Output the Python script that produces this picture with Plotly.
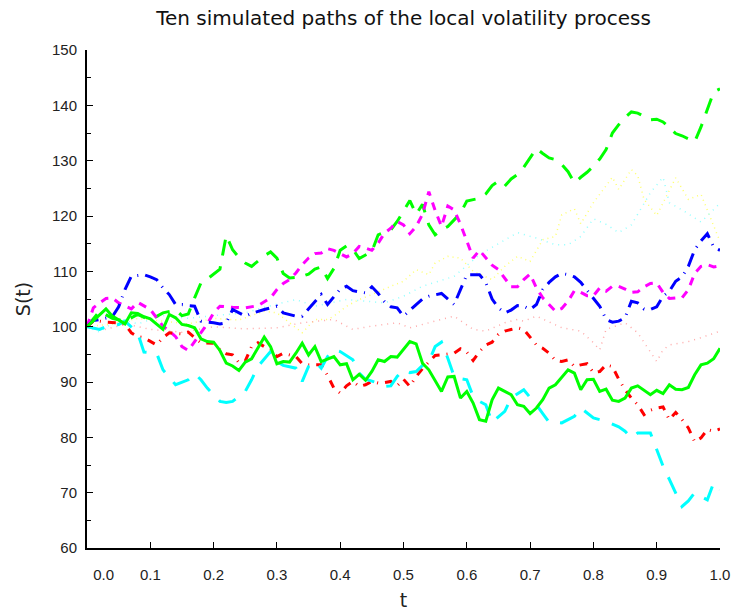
import plotly.graph_objects as go

# ---------------- data ----------------
t_green_solid = [0, 0.03, 0.04, 0.06, 0.07, 0.08, 0.09, 0.10,
                 0.12, 0.13, 0.14, 0.15, 0.16, 0.17, 0.18, 0.19, 0.20,
                 0.21, 0.22, 0.23, 0.24, 0.25, 0.26, 0.28, 0.29, 0.30,
                 0.31, 0.32, 0.33, 0.34, 0.35, 0.36, 0.37, 0.39, 0.40,
                 0.41, 0.42, 0.43, 0.44, 0.45, 0.46, 0.47, 0.48, 0.49,
                 0.51, 0.52, 0.53, 0.54, 0.56, 0.57, 0.58, 0.59, 0.60,
                 0.61, 0.62, 0.63, 0.64, 0.65, 0.66, 0.67, 0.68, 0.69, 0.70,
                 0.71, 0.72, 0.73, 0.74, 0.75, 0.76, 0.77, 0.78, 0.79, 0.80,
                 0.81, 0.82, 0.83, 0.84, 0.85, 0.86, 0.87,
                 0.89, 0.90, 0.91, 0.92, 0.93, 0.94, 0.95, 0.96, 0.97, 0.98, 0.99, 1.00]
s_green_solid = [100, 103.2, 101.9, 100.5, 102.5, 102.4, 101.8, 101.4,
                 99.5, 102.2, 101.6, 100.4, 100.2, 99.8, 97.8, 97.3, 97.2,
                 95.7, 93.4, 92.9, 92.1, 93.6, 94.2, 98.1, 96.4, 93.3,
                 93.7, 93.6, 95.2, 97.0, 94.9, 96.4, 93.7, 94.6, 93.1,
                 93.3, 90.4, 91.4, 90.3, 91.9, 94.0, 93.7, 94.6, 94.5,
                 97.3, 96.9, 93.4, 92.2, 88.3, 90.9, 91.0, 87.1, 88.3,
                 86.2, 83.2, 82.9, 86.8, 88.9, 88.3, 87.7, 85.9, 85.6, 84.3,
                 85.3, 86.8, 88.9, 89.5, 90.9, 92.2, 91.6, 88.6, 90.4, 90.5,
                 88.3, 88.7, 86.7, 86.5, 87.1, 88.9, 89.3,
                 87.7, 88.5, 87.9, 89.5, 88.7, 88.6, 89.0, 91.3, 93.1, 93.4, 94.2, 96.1]

t_green_dash = [0, 0.02, 0.04, 0.06, 0.08, 0.10, 0.12, 0.14, 0.15, 0.16,
                0.17, 0.18, 0.19, 0.20, 0.21, 0.22, 0.23, 0.24, 0.25, 0.26,
                0.27, 0.28, 0.29, 0.30, 0.31, 0.32, 0.33, 0.34, 0.35, 0.36,
                0.37, 0.38, 0.39, 0.40, 0.41, 0.42, 0.43, 0.44, 0.45, 0.46,
                0.47, 0.48, 0.49, 0.50, 0.51, 0.52, 0.53, 0.54, 0.55, 0.56,
                0.57, 0.58, 0.59, 0.60, 0.61, 0.62, 0.63, 0.64, 0.65, 0.66,
                0.67, 0.68, 0.69, 0.70, 0.71, 0.72, 0.73, 0.74, 0.75, 0.76,
                0.77, 0.78, 0.79, 0.80, 0.81, 0.82, 0.83, 0.84, 0.85, 0.86,
                0.87, 0.88, 0.89, 0.90, 0.91, 0.92, 0.93, 0.94, 0.95, 0.96,
                0.97, 0.98, 0.99, 1.00]
s_green_dash = [100, 102.8, 101.5, 101.0, 102.2, 101.2, 102.5, 103.0, 102.0, 102.3,
                105.2, 107.9, 108.6, 109.5, 110.4, 116.5, 113.9, 112.5, 111.5, 110.9,
                111.8, 112.8, 113.5, 112.4, 109.6, 108.8, 108.9, 109.1, 109.5, 110.4,
                110.8, 108.7, 110.5, 113.8, 114.6, 114.0, 112.3, 112.9, 113.6, 116.6,
                117.0, 117.5, 119.0, 120.8, 122.8, 120.3, 122.1, 118.4, 116.6, 117.5,
                118.1, 119.3, 120.5, 122.7, 123.0, 123.2, 124.0, 125.5, 126.3, 125.4,
                126.7, 127.5, 128.8, 130.5, 132.2, 131.3, 130.5, 130.2, 129.3, 128.0,
                126.0, 127.0, 127.9, 129.0, 130.3, 132.0, 135.0, 136.5, 137.8, 138.8,
                138.6, 138.0, 137.4, 137.5, 137.0, 136.0, 134.9, 134.5, 134.0, 133.4,
                136.1, 139.4, 142.4, 143.0]

t_magenta = [0, 0.01, 0.02, 0.03, 0.04, 0.05, 0.07, 0.08, 0.10, 0.11,
             0.12, 0.13, 0.14, 0.15, 0.16, 0.17, 0.18, 0.19, 0.20, 0.21,
             0.23, 0.25, 0.27, 0.29, 0.30, 0.31, 0.32, 0.33, 0.34, 0.35,
             0.36, 0.37, 0.38, 0.39, 0.40, 0.41, 0.42, 0.43, 0.44, 0.45,
             0.46, 0.47, 0.48, 0.49, 0.50, 0.51, 0.52, 0.53, 0.54, 0.55,
             0.56, 0.57, 0.58, 0.59, 0.60, 0.61, 0.62, 0.63, 0.64, 0.65,
             0.66, 0.67, 0.68, 0.69, 0.70, 0.71, 0.72, 0.73, 0.74, 0.75,
             0.76, 0.77, 0.78, 0.79, 0.80, 0.81, 0.82, 0.83, 0.84, 0.85,
             0.86, 0.87, 0.88, 0.89, 0.90, 0.91, 0.92, 0.93, 0.94, 0.95,
             0.96, 0.97, 0.98, 0.99, 1.00]
s_magenta = [100, 103.4, 104.3, 105.1, 105.2, 104.3, 103.2, 104.4, 103.1, 101.6,
             100.1, 99.2, 98.2, 96.4, 95.7, 97.3, 98.9, 100.5, 102.5, 103.7,
             103.5, 103.4, 103.8, 105.2, 106.7, 107.8, 108.5, 109.7, 111.2, 112.4,
             113.2, 113.3, 114.1, 113.8, 113.2, 112.6, 113.2, 114.5, 114.2, 113.8,
             115.1, 116.9, 117.8, 119.0, 118.4, 116.8, 118.1, 120.3, 124.4, 121.0,
             118.1, 121.8, 121.1, 118.5, 115.5, 112.4, 113.8, 112.4, 111.1, 110.3,
             108.8, 107.2, 107.2, 108.5, 109.5, 107.0, 105.2, 104.0, 102.8, 103.3,
             104.6, 106.5, 106.2, 105.6, 105.6, 107.0, 106.4, 107.3, 107.3, 106.8,
             106.2, 106.3, 107.2, 107.8, 107.9, 106.2, 105.1, 105.2, 105.2, 106.7,
             109.6, 110.9, 111.2, 110.8, 111.0]

t_blue = [0, 0.01, 0.02, 0.03, 0.04, 0.05, 0.06, 0.07, 0.08, 0.09,
          0.10, 0.11, 0.12, 0.13, 0.14, 0.15, 0.16, 0.17, 0.18, 0.19,
          0.20, 0.21, 0.22, 0.23, 0.24, 0.25, 0.26, 0.27, 0.28, 0.29,
          0.30, 0.31, 0.33, 0.34, 0.35, 0.37, 0.38, 0.39, 0.40, 0.41,
          0.42, 0.44, 0.45, 0.46, 0.47, 0.48, 0.49, 0.50, 0.51, 0.52,
          0.53, 0.54, 0.56, 0.57, 0.58, 0.59, 0.60, 0.62, 0.63, 0.64,
          0.65, 0.66, 0.67, 0.68, 0.69, 0.70, 0.71, 0.72, 0.73, 0.74,
          0.75, 0.76, 0.77, 0.78, 0.79, 0.80, 0.81, 0.82, 0.83, 0.84,
          0.85, 0.86, 0.87, 0.88, 0.89, 0.90, 0.91, 0.92, 0.93, 0.94,
          0.95, 0.96, 0.97, 0.98, 0.99, 1.00]
s_blue = [100, 101.1, 101.3, 101.5, 101.8, 103.6, 106.7, 109.1, 109.2, 109.4,
          109.0, 108.5, 107.0, 105.8, 104.0, 104.0, 103.8, 103.7, 101.0, 100.9,
          100.7, 100.5, 100.7, 103.1, 102.5, 101.9, 102.4, 102.8, 103.1, 103.4,
          103.7, 102.5, 101.9, 101.9, 103.2, 105.8, 104.0, 105.5, 106.8, 107.3,
          106.5, 106.1, 107.2, 106.0, 104.5, 103.6, 103.4, 101.9, 103.0, 104.0,
          105.0, 105.5, 106.0, 105.0, 104.0, 106.7, 109.4, 109.4, 108.0, 105.0,
          103.4, 102.5, 103.0, 103.8, 103.7, 103.1, 104.0, 106.7, 108.0, 109.0,
          109.6, 109.4, 109.0, 108.0, 106.5, 105.2, 103.7, 101.3, 100.8, 101.0,
          101.6, 104.6, 104.3, 103.2, 103.1, 103.6, 105.5, 106.4, 108.2, 109.0,
          110.9, 113.9, 115.5, 116.8, 114.4, 113.8]

t_red = [0, 0.01, 0.02, 0.03, 0.05, 0.06, 0.07, 0.08, 0.09, 0.10,
         0.11, 0.12, 0.13, 0.15, 0.16, 0.17, 0.18, 0.20, 0.21, 0.22,
         0.23, 0.24, 0.25, 0.26, 0.27, 0.28, 0.29, 0.30, 0.31, 0.32,
         0.33, 0.34, 0.35, 0.37, 0.38, 0.39, 0.40, 0.41, 0.42, 0.43,
         0.44, 0.45, 0.46, 0.47, 0.48, 0.49, 0.50, 0.51, 0.52, 0.53,
         0.54, 0.55, 0.56, 0.57, 0.58, 0.59, 0.60, 0.61, 0.62, 0.63,
         0.64, 0.65, 0.66, 0.67, 0.68, 0.69, 0.70, 0.71, 0.72, 0.73,
         0.74, 0.75, 0.76, 0.77, 0.78, 0.79, 0.80, 0.81, 0.82, 0.83,
         0.84, 0.85, 0.86, 0.87, 0.88, 0.89, 0.90, 0.91, 0.92, 0.93,
         0.94, 0.95, 0.96, 0.97, 0.98, 0.99, 1.00]
s_red = [100, 101.0, 101.0, 100.8, 100.7, 100.4, 98.9, 98.2, 98.0, 97.3,
         96.7, 98.0, 98.9, 98.7, 99.0, 98.0, 97.1, 97.0, 95.8, 95.1,
         94.9, 93.5, 93.8, 96.4, 97.1, 96.4, 96.0, 94.6, 95.2, 94.9,
         94.6, 93.3, 93.1, 93.1, 91.2, 88.9, 88.0, 89.3, 90.1, 89.2,
         89.5, 90.1, 89.8, 89.9, 90.1, 89.3, 90.5, 89.2, 91.0, 92.4,
         93.7, 94.8, 94.9, 95.1, 95.2, 96.0, 95.4, 93.9, 95.5, 96.7,
         97.2, 98.6, 99.2, 99.5, 99.8, 99.5, 98.0, 96.7, 96.1, 95.2,
         93.9, 93.7, 94.0, 92.8, 93.1, 93.3, 91.7, 91.9, 93.1, 92.8,
         90.5, 88.6, 87.1, 85.9, 84.1, 84.9, 85.3, 85.5, 83.2, 84.5,
         83.2, 81.7, 79.2, 79.9, 81.4, 81.1, 81.5]

t_cyan = [0, 0.02, 0.03, 0.05, 0.06, 0.07, 0.08, 0.09, 0.11, 0.12,
          0.14, 0.16, 0.17, 0.18, 0.19, 0.20, 0.21, 0.22, 0.23, 0.24,
          0.25, 0.26, 0.27, 0.29, 0.30, 0.31, 0.33, 0.34, 0.35, 0.36,
          0.37, 0.38, 0.39, 0.40, 0.42, 0.43, 0.44, 0.46, 0.47, 0.48,
          0.49, 0.50, 0.51, 0.52, 0.53, 0.54, 0.55, 0.56, 0.57, 0.58,
          0.59, 0.60, 0.61, 0.62, 0.63, 0.64, 0.65, 0.66, 0.67, 0.68,
          0.69, 0.70, 0.71, 0.72, 0.73, 0.74, 0.75, 0.76, 0.77, 0.78,
          0.79, 0.80, 0.82, 0.83, 0.84, 0.85, 0.86, 0.87, 0.88, 0.89,
          0.90, 0.91, 0.92, 0.93, 0.94, 0.95, 0.96, 0.97, 0.98, 0.99, 1.00]
s_cyan = [100, 99.5, 100.0, 100.4, 101.0, 100.0, 98.9, 95.4, 95.2, 92.2,
          89.5, 90.4, 91.5, 90.4, 88.9, 87.7, 86.5, 86.3, 86.5, 87.4,
          88.3, 90.4, 92.8, 95.5, 93.7, 93.0, 92.5, 90.1, 92.8, 93.7,
          92.5, 94.6, 95.8, 95.5, 94.0, 91.6, 90.5, 89.8, 89.2, 89.3,
          91.0, 92.2, 91.7, 91.9, 93.0, 93.7, 96.4, 97.2, 94.3, 91.0,
          90.6, 90.4, 87.4, 86.5, 85.9, 82.7, 83.7, 84.7, 87.1, 87.8,
          88.6, 87.2, 85.9, 84.3, 82.7, 82.7, 82.6, 83.2, 83.8, 85.3,
          84.4, 83.5, 82.9, 82.4, 81.9, 81.1, 79.9, 80.8, 80.8, 80.8,
          77.8, 74.8, 72.4, 69.8, 67.5, 68.5, 70.0, 69.3, 68.7, 71.8, 70.6]

t_yellow = [0, 0.04, 0.08, 0.12, 0.16, 0.20, 0.24, 0.25, 0.28, 0.30,
            0.32, 0.34, 0.36, 0.38, 0.39, 0.41, 0.43, 0.45, 0.48, 0.50,
            0.52, 0.54, 0.55, 0.57, 0.59, 0.61, 0.64, 0.66, 0.68, 0.70,
            0.72, 0.74, 0.75, 0.77, 0.78, 0.80, 0.83, 0.84, 0.86, 0.87,
            0.88, 0.90, 0.93, 0.95, 0.97, 0.98, 1.00]
s_yellow = [100, 100.5, 101.5, 101.0, 100.5, 101.5, 101.2, 101.6, 102.8, 102.5,
            100.7, 98.9, 101.3, 101.3, 101.9, 103.7, 104.9, 105.8, 107.3, 108.2,
            110.3, 109.4, 111.5, 112.7, 112.4, 110.0, 108.5, 110.9, 112.7, 111.8,
            115.7, 116.3, 120.2, 121.3, 118.6, 122.4, 127.0, 124.8, 128.4, 127.3,
            123.0, 120.1, 126.9, 123.0, 123.9, 121.0, 115.4]

t_light_cyan = [0, 0.02, 0.05, 0.08, 0.12, 0.16, 0.20, 0.25, 0.28, 0.33,
                0.36, 0.41, 0.47, 0.50, 0.53, 0.58, 0.62, 0.65, 0.68, 0.71,
                0.74, 0.76, 0.78, 0.80, 0.82, 0.84, 0.86, 0.89, 0.91, 0.92,
                0.94, 0.97, 1.00]
s_light_cyan = [100, 99.0, 101.5, 100.5, 102.0, 101.5, 102.0, 102.5, 103.5, 104.9,
                103.7, 104.9, 104.3, 105.5, 107.3, 109.1, 113.0, 115.0, 117.0, 116.0,
                114.8, 114.8, 116.3, 119.5, 118.5, 117.0, 118.4, 124.2, 127.0, 122.4,
                121.1, 118.9, 122.3]

t_pink = [0, 0.03, 0.06, 0.10, 0.15, 0.20, 0.25, 0.30, 0.34, 0.39,
          0.42, 0.45, 0.49, 0.51, 0.53, 0.56, 0.58, 0.61, 0.63, 0.66,
          0.68, 0.69, 0.71, 0.75, 0.78, 0.80, 0.81, 0.82, 0.85, 0.87,
          0.90, 0.91, 0.92, 0.95, 0.97, 1.00]
s_pink = [100, 99.5, 100.5, 99.5, 99.0, 100.0, 99.6, 99.8, 100.7, 101.3,
          99.5, 100.1, 100.7, 99.8, 100.4, 101.3, 101.9, 99.5, 99.2, 100.7,
          101.3, 101.0, 101.9, 99.8, 99.2, 97.1, 95.8, 99.5, 100.7, 98.9,
          93.7, 95.8, 96.7, 97.3, 98.0, 99.2]

x_ticks = [0.0, 0.1, 0.2, 0.3, 0.4, 0.5, 0.6, 0.7, 0.8, 0.9, 1.0]
x_tick_text = ["\u00a0\u00a0\u00a0\u00a0\u00a0\u00a0\u00a0\u00a00.0", "0.1", "0.2", "0.3", "0.4",
               "0.5", "0.6", "0.7", "0.8", "0.9", "1.0"]
y_ticks = [60, 70, 80, 90, 100, 110, 120, 130, 140, 150]
y_minor_ticks = [65, 75, 85, 95, 105, 115, 125, 135, 145]

# ---------------- figure ----------------
series = [
    (t_yellow, s_yellow, "#ffff70", 1.5, "1px,4px"),
    (t_light_cyan, s_light_cyan, "#90ffff", 1.5, "1px,5px"),
    (t_pink, s_pink, "#ffa8a8", 1.5, "1px,5px"),
    (t_green_dash, s_green_dash, "#00ff00", 3, "16px,11px"),
    (t_magenta, s_magenta, "#ff00ff", 3, "8px,7px"),
    (t_blue, s_blue, "#0000ff", 3, "14px,7px,1px,7px"),
    (t_red, s_red, "#ff0000", 3, "8px,7px,1px,7px"),
    (t_cyan, s_cyan, "#00ffff", 3, "18px,13px"),
    (t_green_solid, s_green_solid, "#00ff00", 3, "solid"),
]

fig = go.Figure()
for tt, ss, col, w, dash in series:
    fig.add_trace(go.Scatter(x=tt, y=ss, mode="lines",
                             line=dict(color=col, width=w, dash=dash),
                             showlegend=False, hoverinfo="skip"))

tick_font = "Liberation Sans, Arial, sans-serif"
title_font = "DejaVu Sans, Liberation Sans, sans-serif"
fig.update_layout(
    width=735, height=611,
    margin=dict(l=87, r=15, t=50, b=63, autoexpand=False),
    plot_bgcolor="white", paper_bgcolor="white",
    font=dict(family=tick_font, color="#222222", size=14),
    title=dict(text="Ten simulated paths of the local volatility process",
               x=(87 + 720) / 2 / 735, xanchor="center",
               y=1 - 18 / 611, yanchor="middle", yref="container",
               font=dict(family=title_font, size=20, color="#111111")),
    xaxis=dict(range=[0, 1], showgrid=False, zeroline=False, automargin=False,
               showline=True, linecolor="black", linewidth=2,
               tickmode="array", tickvals=x_ticks, ticktext=x_tick_text,
               ticks="inside", ticklen=6, tickcolor="black", tickwidth=1,
               ticklabelstandoff=12, tickfont=dict(size=15),
               title=dict(text="t", font=dict(family=title_font, size=19), standoff=20)),
    yaxis=dict(range=[60, 150], showgrid=False, zeroline=False, automargin=False,
               showline=True, linecolor="black", linewidth=2,
               tickmode="array", tickvals=y_ticks,
               ticks="inside", ticklen=6, tickcolor="black", tickwidth=1,
               minor=dict(tickvals=y_minor_ticks,
                          ticks="inside", ticklen=4, tickcolor="black", tickwidth=1),
               ticklabelstandoff=5, tickfont=dict(size=15),
               title=dict(text="S(t)", font=dict(family=title_font, size=19), standoff=16)),
)

fig.write_html("out.html")
